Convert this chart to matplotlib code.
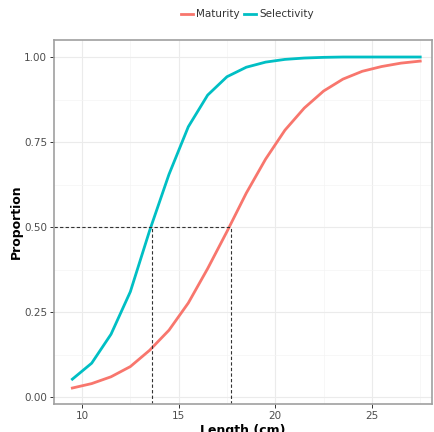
import numpy as np
import matplotlib.pyplot as plt

# length classes (cm) and fitted ogives
length = np.arange(9.5, 28.0, 1.0)
maturity = [0.027, 0.040, 0.060, 0.090, 0.138, 0.197, 0.277, 0.378, 0.487,
            0.600, 0.700, 0.785, 0.850, 0.900, 0.935, 0.958, 0.972, 0.982, 0.988]
selectivity = [0.053, 0.100, 0.185, 0.310, 0.490, 0.655, 0.795, 0.888, 0.942,
               0.970, 0.985, 0.993, 0.997, 0.999, 1.000, 1.000, 1.000, 1.000, 1.000]
l50_sel = 13.6
l50_mat = 17.7

fig = plt.figure(figsize=(4.34, 4.32), dpi=100)
ax = fig.add_axes([0.1244, 0.0648, 0.8706, 0.8426])

ax.plot(length, maturity, color='#F8766D', lw=2.0, label='Maturity')
ax.plot(length, selectivity, color='#00BFC4', lw=2.0, label='Selectivity')

xmin, xmax = 8.55, 28.1
ymin, ymax = -0.02, 1.05
ax.plot([xmin, l50_mat], [0.5, 0.5], color='#333333', lw=0.8, ls=(0, (3, 2)))
ax.plot([l50_sel, l50_sel], [ymin, 0.5], color='#333333', lw=0.8, ls=(0, (3, 2)))
ax.plot([l50_mat, l50_mat], [ymin, 0.5], color='#333333', lw=0.8, ls=(0, (3, 2)))

ax.set_xlim(xmin, xmax)
ax.set_ylim(ymin, ymax)
ax.set_xticks([10, 15, 20, 25])
ax.set_yticks([0, 0.25, 0.5, 0.75, 1.0])
ax.set_yticklabels(['0.00', '0.25', '0.50', '0.75', '1.00'])
ax.set_xticks([12.5, 17.5, 22.5, 27.5], minor=True)
ax.set_yticks([0.125, 0.375, 0.625, 0.875], minor=True)
ax.grid(which='major', color='#EBEBEB', lw=0.8)
ax.grid(which='minor', color='#F4F4F4', lw=0.5)
ax.set_axisbelow(True)
ax.tick_params(which='major', length=3, width=0.7, color='#333333',
               labelsize=7.5, labelcolor='#4D4D4D', pad=2)
ax.tick_params(which='minor', length=0)
for s in ax.spines.values():
    s.set_color('#A0A0A0')
    s.set_linewidth(1.2)

ax.set_xlabel('Length (cm)', fontsize=9, fontweight='bold', labelpad=2)
ax.set_ylabel('Proportion', fontsize=9, fontweight='bold', labelpad=1)

fig.legend(loc='upper center', bbox_to_anchor=(0.57, 1.0), ncol=2, frameon=False,
           fontsize=7.5, handlelength=1.2, columnspacing=0.4, handletextpad=0.3,
           labelcolor='#333333')

fig.savefig('out.png', dpi=100)
